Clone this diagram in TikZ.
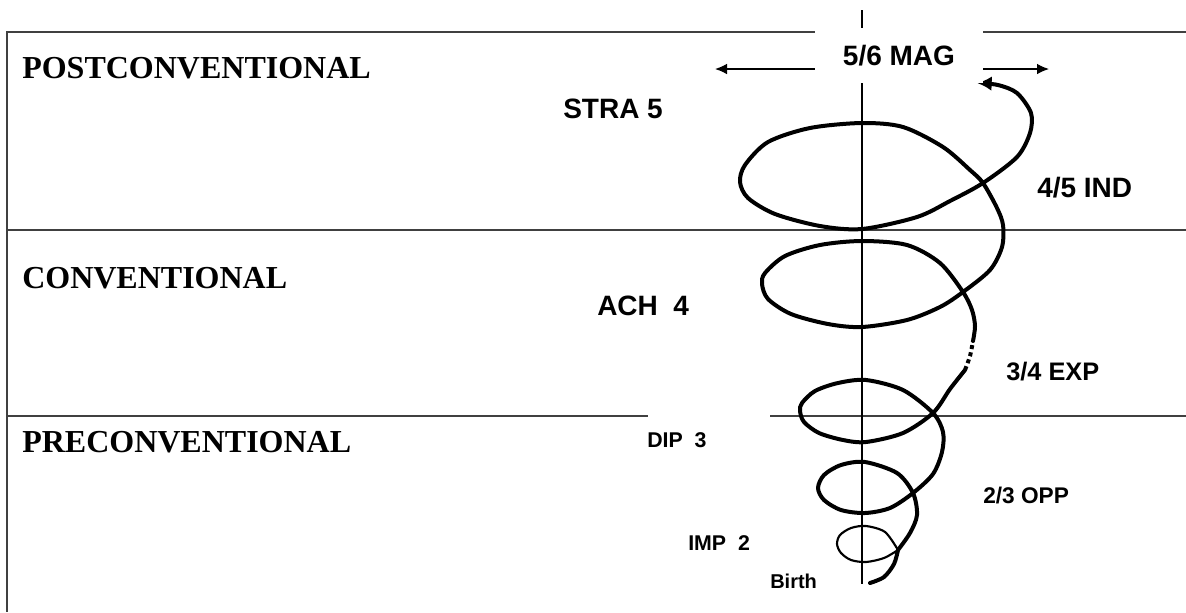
\documentclass[tikz,border=0pt]{standalone}
\usepackage{fontspec}
\setmainfont{Liberation Serif}
\newfontfamily\arialfont{Liberation Sans}
\usepackage{tikz}
\usetikzlibrary{arrows.meta,positioning}
\tikzset{%
	level/.style   = {anchor=base west, inner sep=0pt, font=\fontsize{24}{28}\selectfont\bfseries},
	stage/.style   = {anchor=base west, inner sep=0pt, font=\arialfont\fontsize{#1}{#1}\selectfont\bfseries},
	stage/.default = 21,
	frame/.style   = {line width=1.1pt, black!75},
	spiral/.style  = {line width=3pt, line cap=round, line join=round},
	pointer/.style = {line width=1pt, -{Latex[length=9pt,width=8pt]}},
}
\begin{document}
\begin{tikzpicture}[x=0.75pt,y=-0.75pt]
	\useasboundingbox (0,0) rectangle (1186,612);
	% frame of the three levels
	\draw[frame] (1186,32) -- (7,32) -- (7,612);
	\draw[frame] (7,230) -- (1186,230);
	\draw[frame] (7,416) -- (648,416) (770,416) -- (1186,416);
	\draw[line width=1.1pt] (862,10) -- (862,584);
	% the spiral, from birth upwards
	\draw[spiral] plot[smooth] coordinates {(870,583) (884,577) (894,564) (898,550)};
	\draw[spiral, line width=1.6pt] plot[smooth] coordinates {(898,550) (885,532) (866,526) (851,528) (840,535) (837,544) (841,553) (851,560) (866,562) (884,558) (898,550)};
	\draw[spiral] plot[smooth] coordinates {(898,550) (910,533) (917,515) (913,493)
		(897,473) (865,462) (841,465) (824,475) (818,488) (824,500) (841,510) (865,513) (890,508) (913,493)
		(933,474) (942,452) (943,432) (933,413)
		(903,390) (866,380) (838,383) (815,391) (802,403) (800,411) (804,422) (819,433) (843,440) (866,442) (903,433) (933,413)
		(950,389) (965,370)};
	\draw[spiral, line cap=butt, dash pattern=on 3pt off 2.5pt] plot[smooth] coordinates {(965,370) (970,356) (973,341)};
	\draw[spiral, -{Latex[length=11pt,width=11pt]}] plot[smooth] coordinates {(973,341) (975,326) (972,310) (963,292)
		(940,263) (907,245) (862,241) (820,245) (785,256) (765,273) (762,284) (768,299) (791,314) (828,324) (862,327) (907,320) (940,307) (963,292)
		(990,270) (1002,247) (1003,225) (997,208) (983,183)
		(970,170) (943,147) (903,127) (862,123) (810,128) (768,142) (745,165) (740,182) (748,198) (775,214) (820,226) (862,229) (917,217) (950,201) (983,183)
		(1017,157) (1030,133) (1031,113) (1017,93) (998,85) (977,83)};
	% top stage and its arrows
	\node[stage, anchor=center, fill=white, minimum width=126pt, minimum height=41pt] (mag) at (899,55.5) {5/6 MAG};
	\coordinate (westend) at (715,69);
	\coordinate (eastend) at (1049,69);
	\draw[pointer] (mag.west |- westend) -- (westend);
	\draw[pointer] (mag.east |- eastend) -- (eastend);
	% levels
	\node[level] (post) at (22,78) {POSTCONVENTIONAL};
	\node[level] (conv) at (22,288) {CONVENTIONAL};
	\node[level] (pre) at (22,452) {PRECONVENTIONAL};
	% stages
	\node[stage] (stra) at (563,118) {STRA 5};
	\node[stage] (ind) at (1037,197) {4/5 IND};
	\node[stage] (ach) at (597,315) {ACH\ \ 4};
	\node[stage=19] (exp) at (1006,380) {3/4 EXP};
	\node[stage=16] (dip) at (647,447) {DIP\ \ 3};
	\node[stage=17] (opp) at (983,503) {2/3 OPP};
	\node[stage=16] (imp) at (688,550) {IMP\ \ 2};
	\node[stage=15] (birth) at (770,588) {Birth};
\end{tikzpicture}
\end{document}
